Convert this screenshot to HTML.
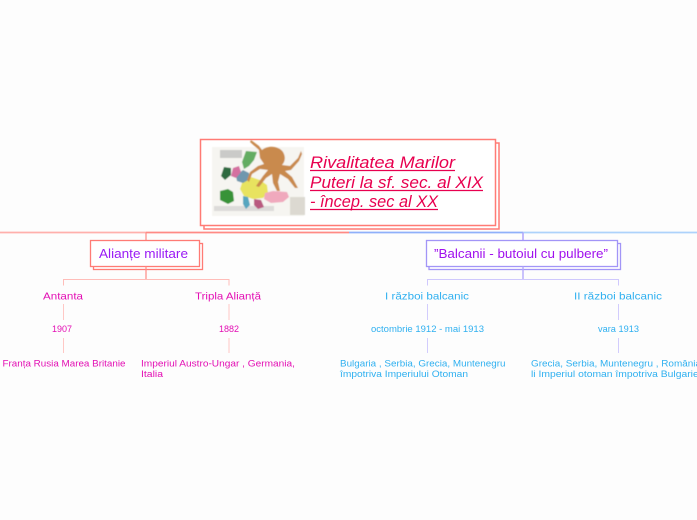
<!DOCTYPE html>
<html><head><meta charset="utf-8"><style>
html,body{margin:0;padding:0;background:#fdfdfd;width:697px;height:520px;overflow:hidden}
svg{display:block}
text{font-family:"Liberation Sans","DejaVu Sans",sans-serif}
</style></head><body>
<svg width="697" height="520" viewBox="0 0 697 520" xmlns="http://www.w3.org/2000/svg">
<defs><filter id="b" x="-5%" y="-5%" width="110%" height="110%"><feGaussianBlur stdDeviation="0.6"/></filter></defs>
<rect width="697" height="520" fill="#fdfdfd"/>
<!-- top connectors -->
<path d="M0 232.500H146" stroke="#ffb0ac" stroke-width="1.8" fill="none"/>
<path d="M146 232.500H349" stroke="#ff8a85" stroke-width="1.8" fill="none"/>
<path d="M349 232.500H523" stroke="#8fb0fa" stroke-width="1.8" fill="none"/>
<path d="M523 232.500H697" stroke="#add2fb" stroke-width="1.8" fill="none"/>
<path d="M146 232.500V240" stroke="#ff8a85" stroke-width="1.2"/>
<path d="M523 232.500V240" stroke="#b4a8fb" stroke-width="1.6"/>
<!-- central box -->
<rect x="204" y="143" width="295" height="86" fill="#fff" stroke="#ff7b75" stroke-width="1.5"/>
<rect x="200.500" y="139.500" width="295" height="86" fill="#fff" stroke="#ff7b75" stroke-width="1.5"/>
<!-- map picture -->
<g filter="url(#b)">
<rect x="212" y="147" width="92" height="69" fill="#f6f5f1"/>
<rect x="220" y="150" width="22" height="8" fill="#a5a5a5" opacity=".55"/>
<rect x="214" y="206" width="60" height="5" fill="#bcbcbc" opacity=".45"/>
<path d="M243 180l8-3 9 3 7 5 1 8-5 5-10 1-9-3-4-7z" fill="#e8e35f"/>
<path d="M265 193l8-2 14 1 2 5-6 5-12 1-7-4z" fill="#f0a9bd"/>
<path d="M246 151l11 1-3 8-5 6-5 3-2-7z" fill="#63ad62"/>
<path d="M236 176l7-6 6 3 1 6-7 4-6-2z" fill="#6f97ae"/>
<path d="M233 168l6-2 2 6-5 6-5-2z" fill="#d46fa0"/>
<path d="M220 191l8-2 5 3 1 9-6 3-8-4z" fill="#399338"/>
<path d="M224 167l7 1 0 7-6 5-4-4z" fill="#2f6b41"/>
<path d="M243 196l5 1 2 8-4 4-3-5z" fill="#57a6bf"/>
<path d="M254 199l7 1 3 7-6 2-4-4z" fill="#b95a80"/>
<path d="M290 197h15v18h-15z" fill="#dcd9d1"/>
<path d="M262 150c6-5 17-4 21 2 3 5 2 10-1 13l8 1 8-8 3-7 1 3-3 7-8 9-6 1 7 6 6 11-3 0-7-9-8-5-2 8 2 9-3 0-4-8-1-9-6 4-7 9-3-1 7-10 5-6-8-1-8 5-3 8-2-2 3-8 8-6 6-2-4-6-1-8-9-8 1-2 8 6z" fill="#c98a4e"/>
</g>
<g fill="#e8004f" font-size="16.500" font-style="italic">
<text x="310" y="168" textLength="145" lengthAdjust="spacingAndGlyphs">Rivalitatea Marilor</text>
<text x="310" y="188" textLength="173" lengthAdjust="spacingAndGlyphs">Puteri la sf. sec. al XIX</text>
<text x="310" y="207" textLength="128" lengthAdjust="spacingAndGlyphs">- încep. sec al XX</text>
</g>
<path d="M310 170.500H455M310 190.500H483M310 209.500H438" stroke="#e8004f" stroke-width="1.2"/>
<!-- left branch -->
<rect x="93.500" y="243.500" width="109" height="26" fill="#fff" stroke="#ff7b75" stroke-width="1.300"/>
<rect x="90.500" y="240.500" width="109" height="26" fill="#fff" stroke="#ff7b75" stroke-width="1.300"/>
<text x="99" y="258" font-size="12.500" fill="#9a1bf5" textLength="89" lengthAdjust="spacingAndGlyphs">Alianțe militare</text>
<path d="M146 266.500V279" stroke="#ff8a85" stroke-width="1.200"/>
<path d="M63.500 285.500V279.500H229V285.500" stroke="#ffbdb9" stroke-width="1" fill="none"/>
<path d="M63.500 304V320M63.500 338V353M229 304V320M229 338V353" stroke="#ffc8c5" stroke-width="1" fill="none"/>
<g fill="#e30fb4" font-size="10.500">
<text x="43" y="299.500" textLength="40" lengthAdjust="spacingAndGlyphs">Antanta</text>
<text x="195" y="299.500" textLength="66" lengthAdjust="spacingAndGlyphs">Tripla Alianță</text>
</g>
<g fill="#e30fb4" font-size="9">
<text x="52" y="332" textLength="20" lengthAdjust="spacingAndGlyphs">1907</text>
<text x="219" y="332" textLength="20" lengthAdjust="spacingAndGlyphs">1882</text>
<text x="2.500" y="366.500" textLength="123" lengthAdjust="spacingAndGlyphs">Franța Rusia Marea Britanie</text>
<text x="141" y="366.500" textLength="154" lengthAdjust="spacingAndGlyphs">Imperiul Austro-Ungar , Germania,</text>
<text x="141" y="377" textLength="22" lengthAdjust="spacingAndGlyphs">Italia</text>
</g>
<!-- right branch -->
<rect x="429" y="243.500" width="191.500" height="26" fill="#fff" stroke="#a295f7" stroke-width="1.300"/>
<rect x="426.500" y="240.500" width="191" height="26" fill="#fff" stroke="#a295f7" stroke-width="1.300"/>
<text x="434" y="258" font-size="12.500" fill="#a010ee" textLength="174" lengthAdjust="spacingAndGlyphs">”Balcanii - butoiul cu pulbere”</text>
<path d="M523 266.500V279" stroke="#b4a8fb" stroke-width="1.400"/>
<path d="M427.500 285.500V279.500H618.500V285.500" stroke="#cfc8fd" stroke-width="1" fill="none"/>
<path d="M427.500 304V320M427.500 338V353M618.500 304V320M618.500 338V353" stroke="#d2ccfd" stroke-width="1" fill="none"/>
<g fill="#2fb0f0" font-size="10.500">
<text x="385" y="299.500" textLength="84" lengthAdjust="spacingAndGlyphs">I război balcanic</text>
<text x="574" y="299.500" textLength="88" lengthAdjust="spacingAndGlyphs">II război balcanic</text>
</g>
<g fill="#2fb0f0" font-size="9">
<text x="371" y="332" textLength="113" lengthAdjust="spacingAndGlyphs">octombrie 1912 - mai 1913</text>
<text x="598" y="332" textLength="41" lengthAdjust="spacingAndGlyphs">vara 1913</text>
<text x="340" y="366.500" textLength="165.500" lengthAdjust="spacingAndGlyphs">Bulgaria , Serbia, Grecia, Muntenegru</text>
<text x="340" y="377" textLength="128" lengthAdjust="spacingAndGlyphs">împotriva Imperiului Otoman</text>
<text x="531" y="366.500" textLength="170" lengthAdjust="spacingAndGlyphs">Grecia, Serbia, Muntenegru , România</text>
<text x="531" y="377" textLength="170" lengthAdjust="spacingAndGlyphs">li Imperiul otoman împotriva Bulgariei</text>
</g>
</svg>
</body></html>
